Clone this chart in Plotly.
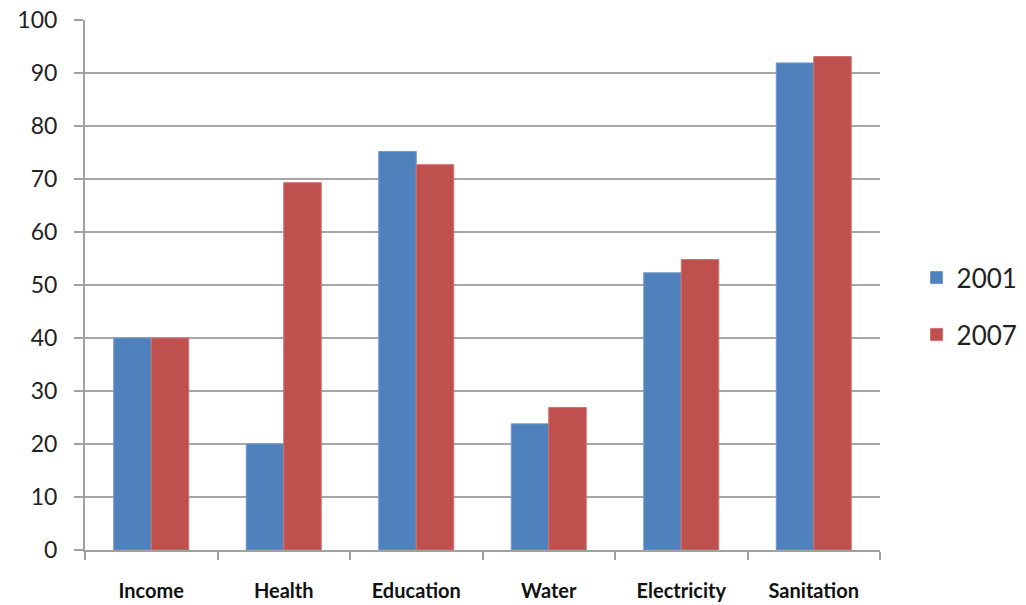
import plotly.graph_objects as go

categories = ["Income", "Health", "Education", "Water", "Electricity", "Sanitation"]
values_2001 = [40, 20, 75.2, 23.8, 52.3, 91.9]
values_2007 = [40, 69.3, 72.7, 26.9, 54.8, 93.1]
y_ticks = list(range(0, 101, 10))

fig = go.Figure()
fig.add_trace(go.Bar(
    x=categories, y=values_2001, name="2001", legendgroup="a",
    marker=dict(color="#4F81BD", line=dict(color="#6f97cc", width=1)),
))
fig.add_trace(go.Bar(
    x=categories, y=values_2007, name="2007", legendgroup="b",
    marker=dict(color="#C0504D", line=dict(color="#cf716e", width=1)),
))

fig.update_layout(
    width=1026, height=605,
    margin=dict(l=85, r=146, t=20, b=55, autoexpand=False),
    plot_bgcolor="white", paper_bgcolor="white",
    barmode="group", bargap=0.434, bargroupgap=0,
    font=dict(family="Lato, Liberation Sans, sans-serif", color="#222"),
    legend=dict(
        x=1.046, y=0.46, xanchor="left", yanchor="middle",
        font=dict(size=26, color="#222"),
        traceorder="grouped", tracegroupgap=20,
        bgcolor="rgba(0,0,0,0)",
    ),
    xaxis=dict(
        type="category", showgrid=False, showline=True, automargin=False,
        linecolor="#a0a0a0", linewidth=2,
        ticks="outside", tickson="boundaries", ticklen=8,
        tickcolor="#a0a0a0", tickwidth=2,
        tickfont=dict(size=20, family="Lato, Liberation Sans, sans-serif", weight="bold", color="#111"),
        ticklabelstandoff=22,
    ),
    yaxis=dict(
        range=[0, 100], tickvals=y_ticks, automargin=False,
        showgrid=True, gridcolor="#a6a6a6", gridwidth=2,
        showline=True, linecolor="#a0a0a0", linewidth=2,
        ticks="outside", ticklen=9, tickcolor="#a0a0a0", tickwidth=2,
        tickfont=dict(size=23, color="#222"),
        ticklabelstandoff=12, zeroline=False,
    ),
)

fig.write_html("out.html")
